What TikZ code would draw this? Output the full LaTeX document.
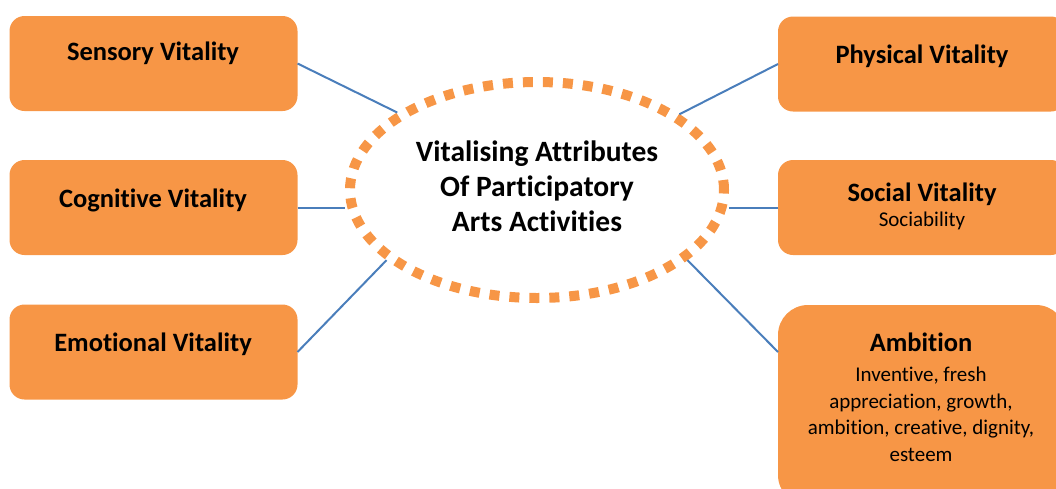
\documentclass[tikz,border=0pt]{standalone}
\usepackage{fontspec}
\setmainfont[Ligatures=NoCommon]{Carlito}
\usetikzlibrary{positioning,shapes.geometric}
\definecolor{vitorange}{HTML}{F79646}
\definecolor{linkblue}{HTML}{4A7EBB}
\tikzset{
  vitbox/.style={fill=vitorange, rounded corners=15pt, minimum width=288pt, minimum height=95pt, inner sep=0pt, outer sep=0pt},
  vittitle/.style={font=\fontsize{26.5}{32}\selectfont\bfseries, inner sep=0pt},
  vitnote/.style={font=\fontsize{21}{26.5}\selectfont, align=center, inner sep=0pt},
  link/.style={draw=linkblue, line width=2pt},
}
\begin{document}
\begin{tikzpicture}[x=1pt, y=-1pt]
  \useasboundingbox (0,0) rectangle (1056,488);
  \clip (0,0) rectangle (1056,488);

  \node[ellipse, draw=vitorange, line width=10pt, dash pattern=on 10pt off 10pt,
        minimum width=374pt, minimum height=216pt, inner sep=0pt, outer sep=5pt] (hub) at (537,190) {};
  \node[vittitle, align=center, font=\fontsize{29.5}{35}\selectfont\bfseries] (hubtext) at (537,186)
        {Vitalising Attributes\\Of Participatory\\Arts Activities};

  \node[vitbox] (sensory) at (153.5,63.5) {};
  \node[vitbox] (cognitive) at (153.5,207.5) {};
  \node[vitbox] (emotional) at (153.5,352) {};
  \node[vitbox] (physical) at (922,64) {};
  \node[vitbox] (social) at (922,207.5) {};
  \node[vitbox, rounded corners=30pt, minimum height=200pt] (ambition) at (922,405) {};

  \node[vittitle] (sensorytext) at (153,53) {Sensory Vitality};
  \node[vittitle] (cognitivetext) at (153,200) {Cognitive Vitality};
  \node[vittitle] (emotionaltext) at (153,344) {Emotional Vitality};
  \node[vittitle] (physicaltext) at (922,56) {Physical Vitality};
  \node[vittitle] (socialtext) at (922,194) {Social Vitality};
  \node[vitnote] (socialnote) at (922,221) {Sociability};
  \node[vittitle] (ambitiontext) at (921,342) {Ambition};
  \node[vitnote, anchor=north] (ambitionnote) at (921,367)
        {Inventive, fresh\\appreciation, growth,\\ambition, creative, dignity,\\esteem};

  \draw[link] (sensory.east) -- (hub.151);
  \draw[link] (cognitive.east) -- (cognitive.east -| hub.west);
  \draw[link] (emotional.east) -- (hub.205);
  \draw[link] (physical.west) -- (hub.28);
  \draw[link] (social.west) -- (social.west -| hub.east);
  \draw[link] (ambition.west |- emotional.east) -- (hub.-25);
\end{tikzpicture}
\end{document}
